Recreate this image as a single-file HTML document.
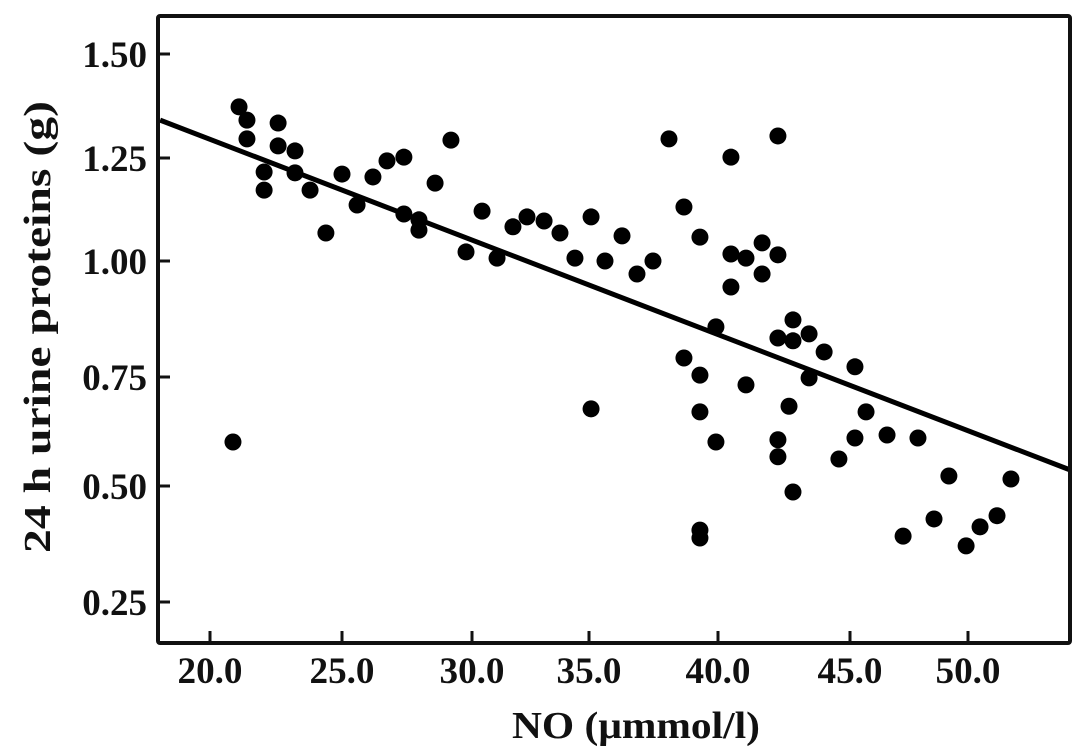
<!DOCTYPE html>
<html><head><meta charset="utf-8"><style>
html,body{margin:0;padding:0;background:#fff;}
svg{display:block;}
text{font-family:"Liberation Serif",serif;font-weight:bold;fill:#111;}
</style></head><body>
<svg id="chart" width="1087" height="751" viewBox="0 0 1087 751" xmlns="http://www.w3.org/2000/svg">
<g id="grid"></g>
<text transform="translate(50,327) rotate(-90)" text-anchor="middle" font-size="38" textLength="452" lengthAdjust="spacingAndGlyphs">24 h urine proteins (g)</text>
<text x="636" y="738" text-anchor="middle" font-size="38" textLength="248" lengthAdjust="spacingAndGlyphs">NO (μmmol/l)</text>
</svg>
<script>
const xTickValues=[20,25,30,35,40,45,50];
const xTickLabels=["20.0","25.0","30.0","35.0","40.0","45.0","50.0"];
const yTickValues=[1.5,1.25,1.0,0.75,0.5,0.25];
const yTickLabels=["1.50","1.25","1.00","0.75","0.50","0.25"];
const noValues=[21.10,21.40,21.40,22.58,22.58,23.22,22.05,22.05,23.22,23.79,24.39,25.00,25.58,26.19,26.73,27.38,27.38,27.96,27.96,28.58,29.19,29.77,30.43,31.07,31.75,32.35,33.08,33.76,34.40,35.08,35.62,36.28,36.86,37.48,38.10,38.68,39.30,40.49,40.49,40.49,41.06,41.67,41.67,42.27,42.27,39.92,38.68,39.30,41.06,35.08,39.30,39.92,42.27,42.27,42.27,42.84,42.69,42.84,43.45,44.02,45.21,43.45,45.68,45.21,46.57,47.88,44.58,49.19,51.82,42.84,48.56,47.25,50.51,51.23,49.92,39.30,39.30,20.87];
const proteinValues=[1.373,1.341,1.296,1.334,1.279,1.267,1.216,1.172,1.214,1.172,1.068,1.211,1.136,1.204,1.243,1.252,1.114,1.100,1.075,1.189,1.293,1.022,1.121,1.007,1.083,1.107,1.097,1.068,1.007,1.107,1.000,1.061,0.972,1.000,1.296,1.131,1.058,1.252,0.944,1.017,1.007,1.044,0.972,1.303,1.015,0.858,0.791,0.754,0.732,0.677,0.670,0.601,0.606,0.567,0.834,0.873,0.683,0.828,0.843,0.804,0.772,0.748,0.670,0.610,0.617,0.610,0.562,0.523,0.516,0.487,0.429,0.392,0.412,0.436,0.371,0.405,0.388,0.601];
const fitLineX=[18.11,54.32];
const fitLineY=[1.341,0.537];

// axis calibration (pixel anchors of tick marks)
const xPx=[210,342,472,589,718,850,968];
const yPx=[54,158,261,377,486,602];
const L=158,T=16,R=1070,B=643;
function interp(v,vals,px){
  const n=vals.length;
  let i=0;
  if((vals[1]-vals[0])>0){ while(i<n-2 && v>vals[i+1]) i++; }
  else { while(i<n-2 && v<vals[i+1]) i++; }
  return px[i]+(v-vals[i])*(px[i+1]-px[i])/(vals[i+1]-vals[i]);
}
function xScale(v){return interp(v,xTickValues,xPx);}
function yScale(v){return interp(v,yTickValues,yPx);}

const NS="http://www.w3.org/2000/svg";
const svg=document.getElementById('chart');
function mk(tag,attrs){const e=document.createElementNS(NS,tag);for(const k in attrs)e.setAttribute(k,attrs[k]);svg.appendChild(e);return e;}

// y ticks
yTickValues.forEach((v,i)=>{
  const y=yScale(v);
  const t=mk('line',{x1:L,x2:L+12,y1:y,y2:y,stroke:'#111','stroke-width':3});
  
  
  const lb=mk('text',{x:147,y:y+13,'text-anchor':'end','font-size':37});
  lb.textContent=yTickLabels[i];
  
  
});
// x ticks
xTickValues.forEach((v,i)=>{
  const x=xScale(v);
  const t=mk('line',{x1:x,x2:x,y1:B,y2:B-12,stroke:'#111','stroke-width':3});
  
  
  const lb=mk('text',{x:x,y:683,'text-anchor':'middle','font-size':37,textLength:65,lengthAdjust:'spacingAndGlyphs'});
  lb.textContent=xTickLabels[i];
  
  
});
// points
noValues.forEach((v,i)=>{
  const c=mk('circle',{cx:xScale(v),cy:yScale(proteinValues[i]),r:8.5,fill:'#000'});
  
  
});
// regression line
const fl=mk('line',{x1:xScale(fitLineX[0]),y1:yScale(fitLineY[0]),x2:xScale(fitLineX[1]),y2:yScale(fitLineY[1]),stroke:'#000','stroke-width':5});


// frame
const fr=mk('rect',{x:L,y:T,width:R-L,height:B-T,fill:'none',stroke:'#111','stroke-width':4,rx:2});


</script>
</body></html>
